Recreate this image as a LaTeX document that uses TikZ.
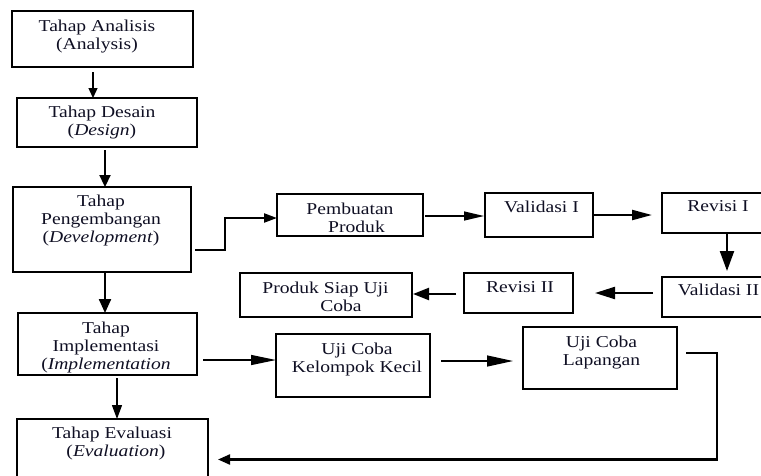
\documentclass[tikz,border=0pt]{standalone}
\usepackage{fontspec}
\setmainfont{Liberation Serif}[FakeStretch=1.18]
\usetikzlibrary{arrows.meta}
\definecolor{txtc}{RGB}{15,15,35}
\begin{document}
\begin{tikzpicture}[x=1pt,y=-1pt,
  box/.style={draw, line width=1.3pt, inner sep=0pt, outer sep=0pt, anchor=north west},
  lbl/.style={anchor=north, inner sep=0pt, align=center, text=txtc, font=\fontsize{16.6}{18}\selectfont},
  ln1/.style={line width=1.3pt},
  ln2/.style={line width=2.2pt},
  ah/.style 2 args={-{Triangle[length=#1,width=#2]}}
  ]
\useasboundingbox (0,0) rectangle (761,475);
\clip (0,0) rectangle (761,475);
% boxes
\node[box, minimum width=181pt, minimum height=56pt] (an) at (12,11) {};
\node[box, minimum width=180pt, minimum height=49pt] (de) at (17,98) {};
\node[box, minimum width=178pt, minimum height=85pt] (dv) at (13,187) {};
\node[box, minimum width=146pt, minimum height=42pt] (pb) at (277,194) {};
\node[box, minimum width=108pt, minimum height=44pt] (v1) at (485,193) {};
\node[box, minimum width=138pt, minimum height=40pt] (r1) at (662,193) {};
\node[box, minimum width=138pt, minimum height=40pt] (v2) at (662,277) {};
\node[box, minimum width=109pt, minimum height=40pt] (r2) at (464,273) {};
\node[box, minimum width=172pt, minimum height=44pt] (ps) at (240,273) {};
\node[box, minimum width=179pt, minimum height=62pt] (im) at (18,313) {};
\node[box, minimum width=154pt, minimum height=63pt] (kk) at (276,334) {};
\node[box, minimum width=154pt, minimum height=62pt] (la) at (523,327) {};
\node[box, minimum width=191pt, minimum height=81pt] (ev) at (17,419) {};
% labels
\node[lbl] (an-t) at (97,19.5) {Tahap Analisis\\(Analysis)};
\node[lbl] (de-t) at (102,105.5) {Tahap Desain\\(\textit{Design})};
\node[lbl] (dv-t) at (101,194.5) {Tahap\\Pengembangan\\(\textit{Development})};
\node[lbl] (pb-t) at (350,202.5) {Pembuatan\\\hspace*{13pt}Produk};
\node[lbl] (v1-t) at (541.5,200.5) {Validasi I};
\node[lbl] (r1-t) at (718,200.5) {Revisi I};
\node[lbl] (v2-t) at (718.5,283.5) {Validasi II};
\node[lbl] (r2-t) at (520,281.5) {Revisi II};
\node[lbl] (ps-t) at (325.5,281.5) {Produk Siap Uji\\\hspace*{31pt}Coba};
\node[lbl] (im-t) at (106,321.5) {Tahap\\Implementasi\\(\textit{Implementation}};
\node[lbl] (kk-t) at (357,342.5) {Uji Coba\\Kelompok Kecil};
\node[lbl] (la-t) at (601.5,335.5) {Uji Coba\\Lapangan};
\node[lbl] (ev-t) at (112,426.5) {Tahap Evaluasi\\\hspace*{8pt}(\textit{Evaluation})};
% connectors
\draw[ln1, ah={10pt}{9pt}] ([xshift=-9.5pt,yshift=-5pt]an.south) -- ([xshift=-14pt]de.north);
\draw[ln2, ah={12pt}{11pt}] ([xshift=-2pt,yshift=-3pt]de.south) -- ([xshift=3pt]dv.north);
\draw[ln2, ah={13pt}{9pt}] ([xshift=4pt,yshift=-20.5pt]dv.east) -- ++(30,0) |- ([yshift=-3pt]pb.west);
\draw[ln1, ah={20pt}{9pt}] ([xshift=2pt,yshift=-1pt]pb.east) -- ([xshift=-1pt,yshift=-1pt]v1.west);
\draw[ln2, ah={20pt}{10pt}] (v1.east) -- ([xshift=-10pt,yshift=-2pt]r1.west);
\draw[ln2, ah={20pt}{14pt}] ([xshift=-4pt]r1.south) -- ([xshift=-4pt,yshift=6pt]v2.north);
\draw[ln2, ah={20pt}{12pt}] ([xshift=-9pt,yshift=4pt]v2.west) -- ([xshift=22pt]r2.east);
\draw[ln2, ah={16pt}{12pt}] ([xshift=-8pt,yshift=-1pt]r2.west) -- ([xshift=1pt,yshift=1pt]ps.east);
\draw[ln2, ah={14pt}{12pt}] ([xshift=3pt]dv.south) -- ([xshift=-2.5pt]im.north);
\draw[ln1, ah={25pt}{10pt}] ([xshift=6pt,yshift=-16pt]im.east) -- ([yshift=5.5pt]kk.west);
\draw[ln1, ah={26pt}{11pt}] ([xshift=11pt,yshift=4.5pt]kk.east) -- ([xshift=-10pt,yshift=-3pt]la.west);
\draw[ln1, ah={14pt}{10pt}] ([xshift=9.5pt,yshift=-3pt]im.south) -- ([xshift=4.5pt]ev.north);
\draw[ln2, ah={12pt}{10pt}] ([xshift=9pt,yshift=5pt]la.east) -- ++(31,0) |- ([xshift=10pt]ev.east);
\end{tikzpicture}
\end{document}
